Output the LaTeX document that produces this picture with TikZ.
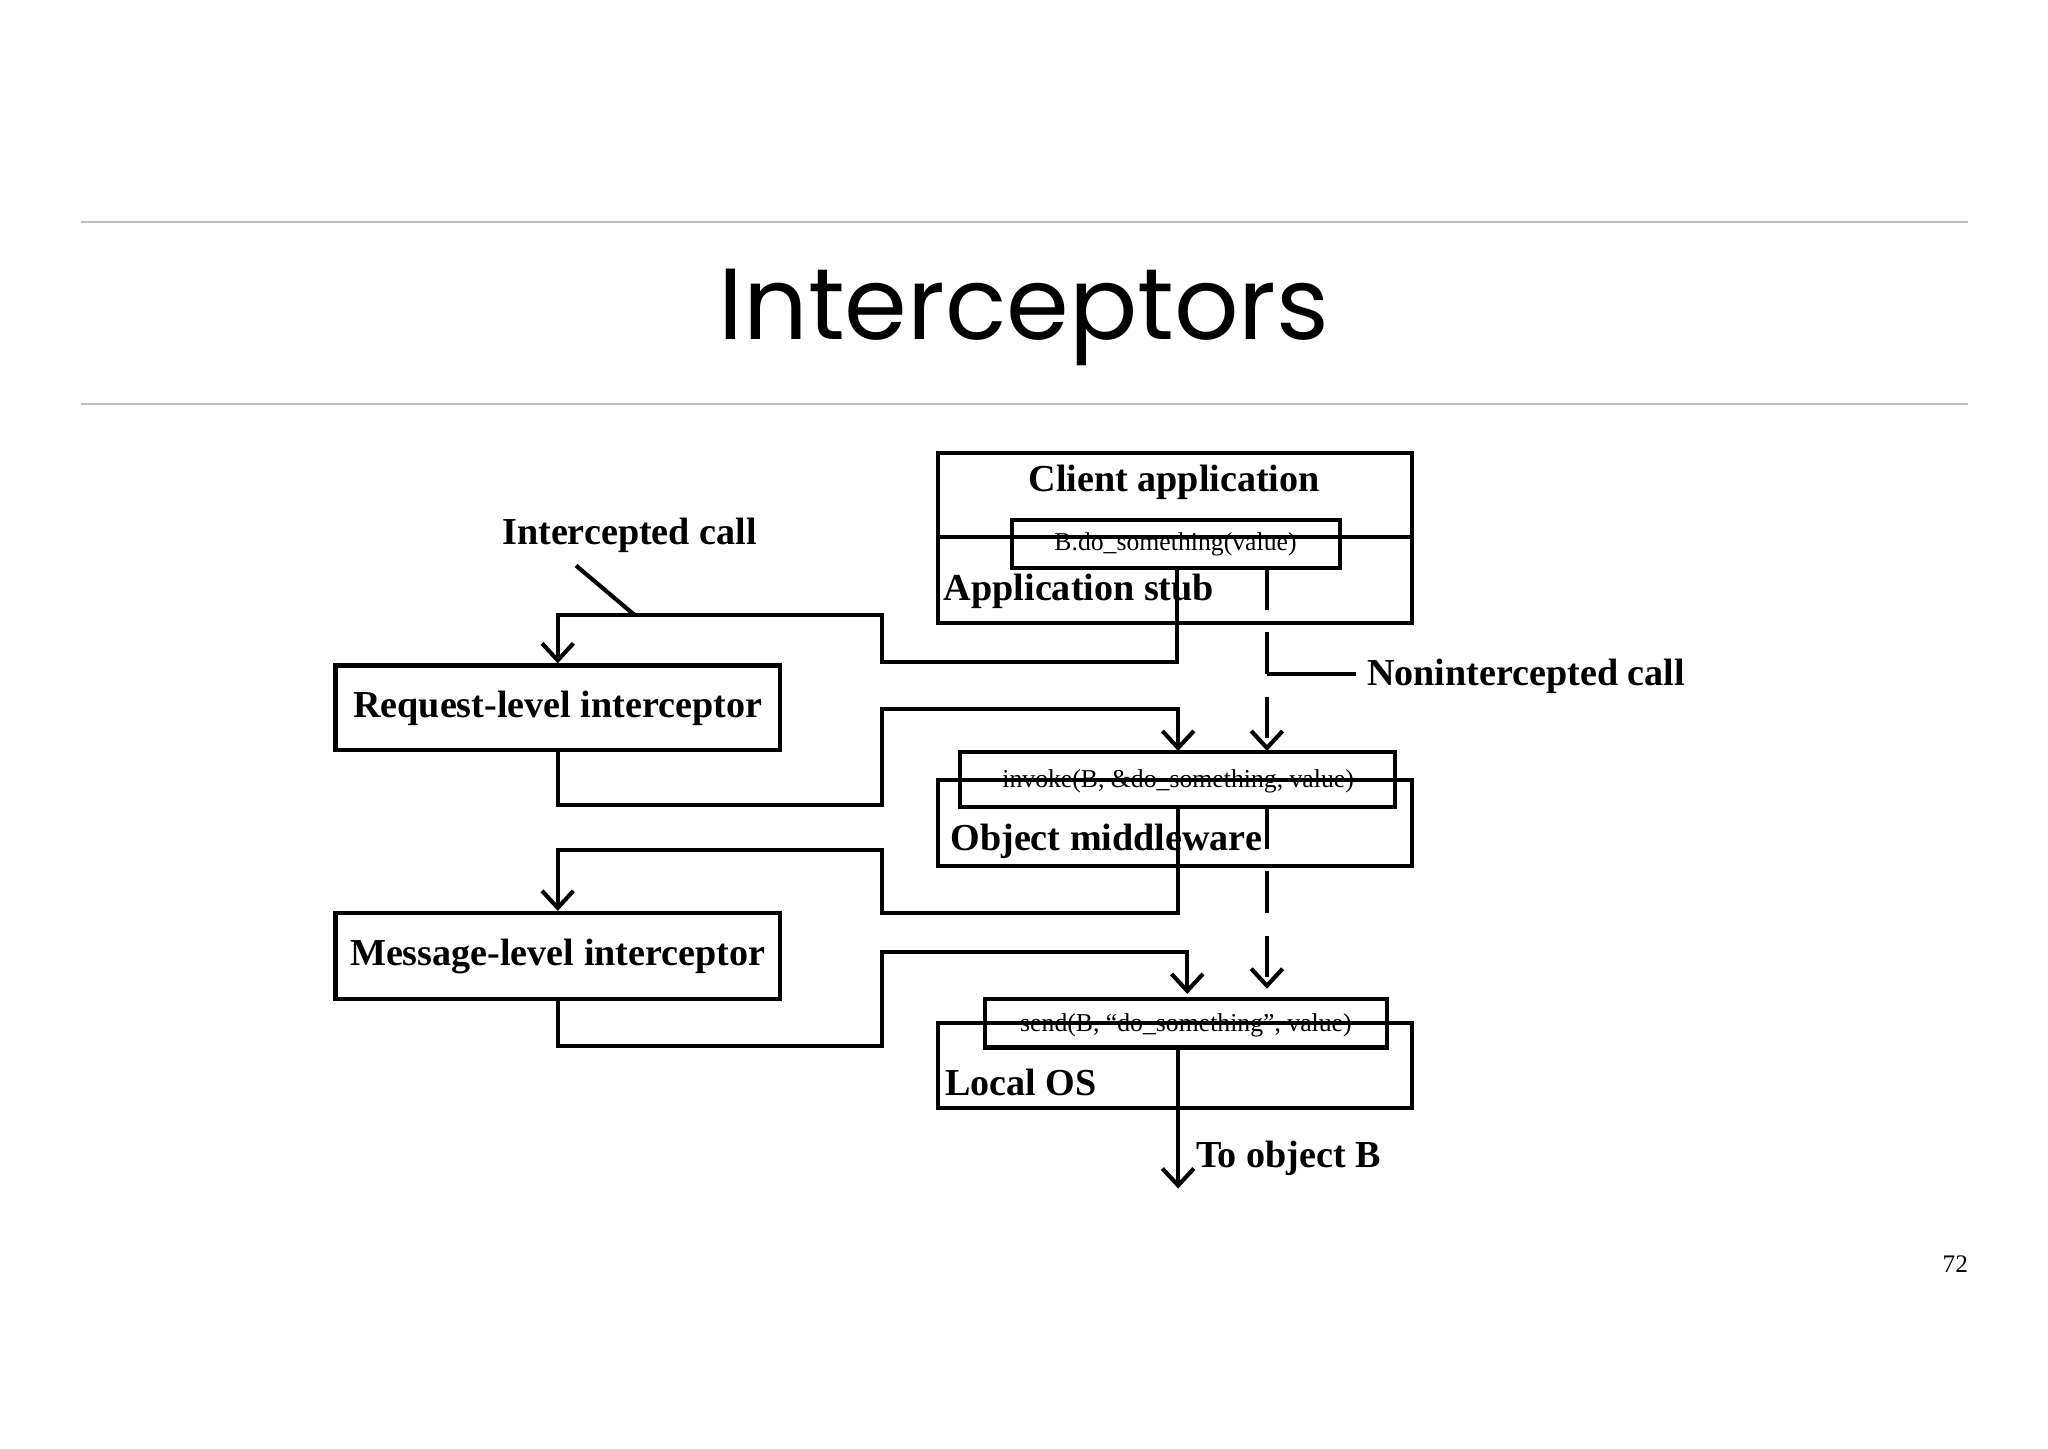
\documentclass[tikz,border=0pt]{standalone}
\usepackage{fontspec}
\setmainfont{Liberation Serif}
\newfontfamily\titlefont{Poppins}
\usetikzlibrary{arrows.meta}
\begin{document}
\begin{tikzpicture}[x=0.01cm,y=-0.01cm,
  ln/.style={line width=0.9pt},
  box/.style={ln,draw},
  arr/.style={ln,-{Straight Barb[length=1.3mm,width=2.4mm,line width=0.9pt]}},
  lbl/.style={font=\fontsize{8.3}{10}\selectfont\bfseries,inner sep=0pt},
  sml/.style={font=\fontsize{5.6}{7}\selectfont,inner sep=0pt}]
\useasboundingbox (0,0) rectangle (1568,1109);
\draw[gray!50,line width=0.4pt] (62,170) -- (1507,170) (62,309) -- (1507,309);
\node[font=\titlefont\fontsize{22}{26}\selectfont,inner sep=0pt] (title) at (784,243) {Interceptors};
% client / stub
\draw[box] (718,347) rectangle (1081,477);
\draw[ln] (718,411) -- (1081,411);
\node[lbl] (ca) at (899,369) {Client application};
\draw[box] (775,398) rectangle (1026,435);
\node[sml] (bdo) at (900,417) {B.do\_something(value)};
\node[lbl,anchor=west] (as) at (722,453) {Application stub};
% object middleware
\draw[box] (718,597) rectangle (1081,663);
\draw[box] (735,576) rectangle (1068,618);
\node[sml] (inv) at (902,598) {invoke(B, \&do\_something, value)};
\node[lbl,anchor=west] (om) at (727,644) {Object middleware};
% local os
\draw[box] (718,783) rectangle (1081,848);
\draw[box] (754,765) rectangle (1062,802);
\node[sml] (snd) at (908,785) {send(B, “do\_something”, value)};
\node[lbl,anchor=west] (los) at (723,829) {Local OS};
% interceptors
\node[box,lbl,minimum width=3.4cm,minimum height=0.65cm] (rli) at (427,542) {Request-level interceptor};
\node[box,lbl,minimum width=3.4cm,minimum height=0.66cm] (mli) at (427,732) {Message-level interceptor};
% paths
\draw[arr] (901,435) -- (901,507) -- (675,507) -- (675,471) -- (427,471) -- (rli.north);
\draw[arr] (rli.south) -- (427,616) -- (675,616) -- (675,543) -- (902,543) -- (902,575);
\draw[arr] (902,618) -- (902,699) -- (675,699) -- (675,651) -- (427,651) -- (mli.north);
\draw[arr] (mli.south) -- (427,801) -- (675,801) -- (675,729) -- (909,729) -- (909,761);
\draw[arr] (902,802) -- (902,910);
\node[lbl,anchor=west] (tob) at (915,887) {To object B};
% dashed
\draw[arr,dash pattern=on 9pt off 5pt] (970,435) -- (970,575);
\draw[arr,dash pattern=on 9pt off 5pt] (970,618) -- (970,757);
\draw[ln] (970,516) -- (1038,516);
\node[lbl,anchor=west] (nic) at (1046,518) {Nonintercepted call};
\node[lbl] (ic) at (482,410) {Intercepted call};
\draw[ln] (441,433) -- (486,471);
\node[font=\fontsize{5.5}{7}\selectfont,inner sep=0pt] (pg) at (1497,968) {72};
\end{tikzpicture}
\end{document}
